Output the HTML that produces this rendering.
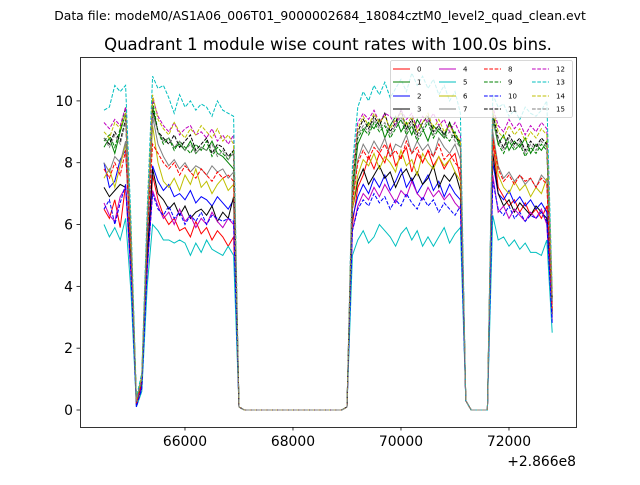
<!DOCTYPE html>
<html><head><meta charset="utf-8"><style>
body{margin:0;background:#fff}
svg text{font-family:"DejaVu Sans","Liberation Sans",sans-serif}
</style></head><body>
<svg id="chart" width="640" height="480" xmlns="http://www.w3.org/2000/svg">
<rect width="640" height="480" fill="#fff"/>
<text x="320" y="20" font-size="12.4" text-anchor="middle">Data file: modeM0/AS1A06_006T01_9000002684_18084cztM0_level2_quad_clean.evt</text>
<text x="328" y="50" font-size="16.5" text-anchor="middle">Quadrant 1 module wise count rates with 100.0s bins.</text>
<g id="plot"></g>
<rect x="80.5" y="57.5" width="496" height="370" fill="none" stroke="#000" stroke-width="0.8"/>
<g id="axes"></g>
<text x="576" y="466" font-size="13.9" text-anchor="end">+2.866e8</text>
<g id="legend"></g>
</svg>
<script>
const xTicks=[66000,68000,70000,72000];
const yTicks=[0,2,4,6,8,10];
const seriesNames=["0","1","2","3","4","5","6","7","8","9","10","11","12","13","14","15"];
const seg1=[
[6.5,6.2,6.8,5.9,7.3,4.6,0.2,0.9,4.5,7.6,6.8,6.3,6.0,6.2,5.8,5.9,5.6,6.1,5.7,5.9,5.5,5.8,5.6,5.3,5.6],
[8.5,8.8,8.3,9.0,9.6,5.5,0.3,1.0,5.8,9.8,9.0,8.7,8.8,8.5,8.6,8.4,8.7,8.3,8.5,8.4,8.7,8.3,8.2,8.0,7.8],
[8.0,7.2,7.4,8.1,8.4,5.0,0.2,0.8,5.0,7.9,7.4,7.1,7.3,6.9,7.0,6.8,7.1,6.7,6.9,6.8,6.6,6.9,6.7,6.5,6.8],
[7.2,6.9,7.1,7.3,7.2,4.8,0.2,0.9,4.8,7.8,7.0,6.8,6.5,6.7,6.3,6.6,6.2,6.4,6.5,6.3,6.6,6.1,6.4,6.2,6.9],
[6.7,6.3,6.1,6.9,7.2,4.3,0.1,0.7,4.5,7.1,6.6,6.2,6.4,6.0,6.5,6.1,6.3,5.9,6.2,6.0,6.4,6.1,5.9,6.2,6.0],
[6.0,5.6,5.9,5.5,6.2,3.8,0.1,0.6,4.0,6.0,5.8,5.5,5.5,5.4,5.5,5.4,5.0,5.4,5.1,5.5,5.2,5.1,5.0,5.3,5.0],
[7.5,7.8,7.2,7.9,8.6,5.0,0.2,1.0,5.5,9.2,8.0,7.4,7.2,7.5,7.1,7.6,7.3,7.8,7.2,7.4,7.0,7.3,7.5,7.1,7.3],
[8.0,7.7,8.2,8.0,8.7,5.3,0.3,1.0,5.8,9.5,8.6,8.2,7.9,8.1,7.8,8.0,7.7,7.9,7.8,7.6,7.9,7.7,7.8,7.5,7.7],
[7.8,7.5,8.0,7.6,8.4,5.2,0.2,0.9,5.6,8.6,8.3,8.0,7.8,8.0,7.6,7.9,7.7,7.5,7.8,7.6,7.4,7.7,7.5,7.6,7.4],
[8.7,8.9,8.5,9.1,9.8,5.6,0.3,1.1,6.0,10.0,9.0,8.6,8.8,8.4,8.7,8.5,8.3,8.6,8.4,8.7,8.2,8.5,8.3,8.1,8.4],
[6.5,6.8,6.0,6.7,7.3,4.4,0.1,0.7,4.6,7.0,6.5,6.3,6.6,6.2,6.4,6.0,6.3,6.1,6.4,6.0,6.3,6.2,6.1,6.2,6.1],
[8.8,8.6,9.0,8.7,9.4,5.5,0.3,1.0,5.9,9.7,9.0,8.8,8.6,8.9,8.5,8.7,8.9,8.4,8.6,8.8,8.3,8.6,8.5,8.2,8.4],
[9.3,9.1,9.4,9.2,9.8,5.8,0.3,1.1,6.1,10.1,9.5,9.2,9.0,9.3,8.9,9.1,9.2,8.9,9.0,8.8,9.1,8.7,8.9,8.6,8.9],
[9.7,9.8,10.5,10.3,10.5,6.1,0.4,1.2,6.5,10.8,10.4,10.5,10.1,9.6,10.2,9.8,10.0,9.7,9.9,9.8,9.5,10.0,9.7,9.6,9.5],
[9.0,8.8,9.3,9.1,9.6,5.7,0.3,1.1,6.0,10.2,9.4,9.1,8.9,9.3,9.0,8.8,9.1,8.9,9.2,9.0,8.8,9.1,8.7,8.9,8.6],
[8.8,8.5,8.9,8.6,9.3,5.5,0.3,1.0,5.9,9.6,9.0,8.7,8.8,8.5,8.7,8.4,8.6,8.3,8.5,8.4,8.6,8.2,8.4,8.1,8.3]];
const seg2=[
[6.0,7.2,7.6,8.2,7.8,8.3,8.0,8.6,7.9,8.2,8.5,7.7,8.3,8.0,8.4,7.9,8.2,7.8,8.1,8.3,7.5],
[7.0,8.6,9.0,9.3,9.1,9.4,8.8,9.2,9.5,9.0,9.3,8.9,9.4,9.1,8.7,9.2,9.0,8.8,9.3,8.9,8.5],
[6.2,6.9,7.3,7.0,7.5,7.2,7.6,7.1,7.4,7.8,7.2,7.5,7.0,7.3,7.6,7.1,7.4,6.9,7.3,7.0,6.8],
[6.5,7.4,7.8,7.3,7.6,7.9,7.5,7.7,7.2,7.6,7.8,7.4,7.7,7.3,7.5,7.9,7.2,7.6,7.4,7.7,7.1],
[5.8,6.6,7.0,6.8,7.2,6.9,7.3,7.0,6.7,7.1,6.9,7.4,7.0,6.8,7.2,6.9,7.1,6.8,7.0,6.7,6.5],
[5.0,5.5,5.8,5.4,5.6,6.0,5.8,5.6,5.3,5.7,5.9,5.5,5.8,5.3,5.6,5.3,5.6,5.9,5.4,5.7,5.9],
[6.5,7.6,8.1,7.9,8.3,7.8,8.2,8.0,7.7,8.4,7.9,8.1,7.6,8.3,8.0,7.8,8.2,7.9,8.1,7.7,7.4],
[6.8,8.1,8.6,8.3,8.7,8.4,8.8,8.2,8.6,8.5,8.9,8.3,8.7,8.4,8.6,8.2,8.8,8.5,8.3,8.6,8.1],
[6.7,8.0,8.4,8.1,8.5,8.3,8.6,8.2,8.4,8.1,8.7,8.3,8.5,8.0,8.4,8.2,8.6,8.1,8.3,8.0,7.8],
[7.2,8.8,9.1,8.9,9.3,9.0,9.2,8.8,9.1,9.4,8.9,9.2,8.7,9.0,9.3,8.8,9.1,8.9,8.7,9.0,8.6],
[5.8,6.5,6.8,6.6,7.0,6.7,6.9,6.5,6.8,6.6,7.0,6.7,6.5,6.9,6.6,6.8,6.4,6.7,6.5,6.3,6.6],
[7.3,9.0,9.4,9.1,9.5,9.2,9.6,9.0,9.3,9.7,9.1,9.4,8.9,9.3,9.5,9.0,9.2,8.9,9.3,8.8,8.7],
[7.6,9.3,9.6,9.4,9.7,9.3,9.6,9.5,9.2,9.7,9.4,9.6,9.1,9.5,9.3,9.6,9.2,9.4,9.0,9.3,8.9],
[7.9,9.8,10.3,10.0,10.5,10.2,10.6,10.1,10.4,10.7,10.3,10.9,10.5,10.8,10.4,10.7,10.2,10.5,10.0,10.3,9.6],
[7.4,9.1,9.5,9.2,9.6,9.3,9.5,9.1,9.4,9.6,9.2,9.5,9.0,9.3,9.6,9.1,9.4,9.0,9.2,8.9,8.7],
[7.2,8.9,9.2,9.0,9.4,9.1,9.3,8.9,9.2,9.5,9.0,9.3,8.8,9.1,9.4,8.9,9.2,8.8,9.0,8.7,8.5]];
const seg3=[
[8.7,7.2,6.9,6.6,6.8,6.4,6.7,6.3,6.5,6.2,6.6,3.2],
[9.4,8.6,8.9,8.4,8.7,8.5,8.8,8.3,8.6,8.4,8.7,3.5],
[8.0,7.0,6.8,7.1,6.7,6.9,6.6,6.8,6.5,6.7,6.4,3.0],
[8.3,7.0,6.6,6.8,6.4,6.7,6.5,6.3,6.6,6.4,6.2,3.1],
[7.6,6.4,6.6,6.2,6.5,6.3,6.1,6.4,6.2,6.5,6.0,2.9],
[6.3,5.5,5.6,5.3,5.5,5.2,5.4,5.1,5.1,5.0,5.5,2.5],
[8.9,7.6,7.2,7.0,7.4,7.1,7.3,6.9,7.2,7.0,7.5,3.3],
[9.0,7.9,7.5,7.7,7.4,7.6,7.3,7.5,7.2,7.6,7.4,3.4],
[8.8,7.8,7.4,7.6,7.3,7.6,7.4,7.5,7.2,7.5,7.3,3.3],
[9.5,8.6,8.3,8.7,8.4,8.6,8.2,8.5,8.3,8.6,8.4,3.6],
[7.4,6.5,6.3,6.6,6.2,6.4,6.1,6.3,6.2,6.4,6.1,2.8],
[9.6,8.8,8.5,8.9,8.6,8.8,8.4,8.7,8.5,8.8,8.6,3.6],
[9.8,9.2,9.0,9.4,9.1,9.3,8.9,9.2,9.0,9.3,9.1,3.8],
[10.2,9.8,9.9,9.5,9.7,9.4,9.8,9.6,9.5,9.7,10.0,3.9],
[9.7,9.0,8.8,9.2,8.9,9.1,8.7,9.0,8.8,9.1,8.9,3.7],
[9.4,8.7,8.4,8.8,8.5,8.7,8.3,8.6,8.4,8.7,8.5,3.5]];
const gapA=[0.1,0,0,0,0,0,0,0,0,0,0,0,0,0,0,0,0,0,0,0,0.1];
const gapB=[0.3,0,0,0,0];
const times=[];for(let t=64500;t<=72800;t+=100)times.push(t);
const colors=["#ff0000","#008000","#0000ff","#000000","#bf00bf","#00bfbf","#bfbf00","#808080"];
const NS="http://www.w3.org/2000/svg";
const X0=80,X1=576,Y0=57,Y1=427,xmin=64056,xmax=73241,ymin=-0.55,ymax=11.42;
const sx=v=>X0+(v-xmin)/(xmax-xmin)*(X1-X0);
const sy=v=>Y1-(v-ymin)/(ymax-ymin)*(Y1-Y0);
function mk(tag,attrs,parent){const e=document.createElementNS(NS,tag);for(const k in attrs)e.setAttribute(k,attrs[k]);parent.appendChild(e);return e;}
const plot=document.getElementById('plot'),axes=document.getElementById('axes'),leg=document.getElementById('legend');
for(let i=0;i<16;i++){
  const vals=seg1[i].concat(gapA,seg2[i],gapB,seg3[i]);
  const pts=vals.map((v,j)=>sx(times[j]).toFixed(1)+","+sy(v).toFixed(1)).join(" ");
  const p=mk('polyline',{points:pts,fill:"none",stroke:colors[i%8],"stroke-width":"1"},plot);
  if(i>=8)p.setAttribute('stroke-dasharray','3.7,1.6');
  
  
}
xTicks.forEach(t=>{
  const x=sx(t);
  const l=mk('line',{x1:x,x2:x,y1:427,y2:430.5,stroke:"#000","stroke-width":"0.8"},axes);
  
  
  const tx=mk('text',{x:x,y:446,"font-size":"13.9","text-anchor":"middle"},axes);tx.textContent=t;
  
  
});
yTicks.forEach(t=>{
  const y=sy(t);
  const l=mk('line',{x1:76.5,x2:80,y1:y,y2:y,stroke:"#000","stroke-width":"0.8"},axes);
  
  
  const tx=mk('text',{x:73,y:y+5,"font-size":"13.9","text-anchor":"end"},axes);tx.textContent=t;
  
  
});
const box=mk('rect',{x:390.5,y:60.5,width:182,height:57,rx:2,fill:"#fff","fill-opacity":"0.8",stroke:"#ccc","stroke-width":"0.8"},leg);


const colX=[393,439,484,532],rowY=[69,82,96,109];
for(let i=0;i<16;i++){
  const c=Math.floor(i/4),r=i%4;
  const g=mk('g',{},leg);
  
  
  const l=mk('line',{x1:colX[c],x2:colX[c]+17,y1:rowY[r],y2:rowY[r],stroke:colors[i%8],"stroke-width":"1"},g);
  if(i>=8)l.setAttribute('stroke-dasharray','3.7,1.6');
  const t=mk('text',{x:colX[c]+24,y:rowY[r]+2.5,"font-size":"7"},g);t.textContent=seriesNames[i];
}
</script>
</body></html>
